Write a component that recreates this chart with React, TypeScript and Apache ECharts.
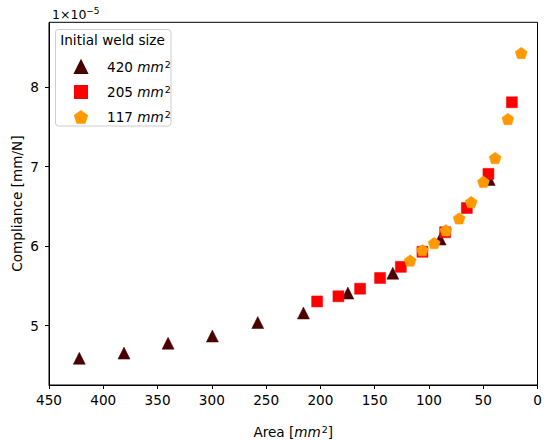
import React, { useEffect, useRef } from "react";
import * as echarts from "echarts";

// Areas [mm^2] and compliance [x 1e-5 mm/N]
const AREA_420 = [422.1, 380.9, 340.3, 299.5, 257.7, 215.6, 174.7, 133.3, 89.7, 44.5];
const COMP_420 = [4.59, 4.655, 4.78, 4.87, 5.04, 5.16, 5.41, 5.66, 6.09, 6.84];
const AREA_205 = [203, 183.4, 163.4, 145, 125.9, 106, 85.1, 65.1, 45.2, 23.6];
const COMP_205 = [5.305, 5.37, 5.465, 5.6, 5.74, 5.93, 6.175, 6.48, 6.91, 7.81];
const AREA_117 = [117.3, 106, 95.2, 84.4, 72.2, 61.1, 49.8, 39, 27.3, 15];
const COMP_117 = [5.82, 5.95, 6.04, 6.2, 6.35, 6.555, 6.81, 7.11, 7.6, 8.43];

const SERIES_NAMES = ["420", "205", "117"];
const SERIES_COLORS = ["#4a0000", "#ff0000", "#ff9900"];
const X_TICKS = [0, 50, 100, 150, 200, 250, 300, 350, 400, 450];
const Y_TICKS = [5, 6, 7, 8];
const Y_MIN = 4.254;
const Y_MAX = 8.816;

const FONT = "DejaVu Sans";
const FS = 13.6;
const PENTAGON = "path://M0,-1L0.951,-0.309L0.588,0.809L-0.588,0.809L-0.951,-0.309Z";

const zip = (xs: number[], ys: number[]) => xs.map((x, i) => [x, ys[i]]);

export default function App() {
  const ref = useRef<HTMLDivElement>(null);
  useEffect(() => {
    if (!ref.current) return;
    const chart = echarts.init(ref.current, null, { renderer: "svg" });
    const supRich = {
      i: { fontStyle: "italic", fontSize: FS, fontFamily: FONT, color: "#000", lineHeight: 16 },
      s: { fontSize: 9.5, fontFamily: FONT, color: "#000", verticalAlign: "top", lineHeight: 16, padding: [0, 0, 0, 1] },
    };
    const mkSeries = (i: number, symbol: string, size: number, xs: number[], ys: number[]) => ({
      name: SERIES_NAMES[i],
      type: "scatter",
      symbol,
      symbolKeepAspect: true,
      symbolSize: size,
      itemStyle: { color: SERIES_COLORS[i], borderColor: SERIES_COLORS[i], borderWidth: 0.5, opacity: 1 },
      emphasis: { disabled: true },
      data: zip(xs, ys),
    });
    const top = 22.3;
    const bottom = 56;
    chart.setOption({
      animation: false,
      backgroundColor: "#ffffff",
      textStyle: { fontFamily: FONT },
      grid: {
        left: 49,
        right: 12.5,
        top,
        bottom,
        show: true,
        borderColor: "#000",
        borderWidth: 1,
        backgroundColor: "transparent",
        containLabel: false,
        outerBoundsMode: "none",
      },
      xAxis: {
        type: "value",
        inverse: true,
        min: 0,
        max: 450,
        interval: 50,
        splitLine: { show: false },
        axisLine: { show: true, onZero: false, lineStyle: { color: "#000", width: 1 } },
        axisTick: { show: true, inside: false, length: 4, lineStyle: { color: "#000" }, customValues: X_TICKS },
        axisLabel: { color: "#000", fontSize: FS, fontFamily: FONT, margin: 8, customValues: X_TICKS },
        name: "Area [{i|mm}{s|2}]",
        nameLocation: "middle",
        nameGap: 39,
        nameTextStyle: { color: "#000", fontSize: FS, fontFamily: FONT, lineHeight: 16, rich: supRich },
      },
      yAxis: {
        type: "value",
        min: Y_MIN,
        max: Y_MAX,
        splitLine: { show: false },
        axisLine: { show: true, onZero: false, lineStyle: { color: "#000", width: 1 } },
        axisTick: { show: true, inside: false, length: 4, lineStyle: { color: "#000" }, customValues: Y_TICKS },
        axisLabel: { color: "#000", fontSize: FS, fontFamily: FONT, margin: 10, customValues: Y_TICKS },
      },
      legend: {
        show: true,
        orient: "vertical",
        left: 69,
        top: 54,
        itemWidth: 12,
        itemHeight: 12,
        itemGap: 9,
        symbolKeepAspect: true,
        selectedMode: false,
        data: SERIES_NAMES,
        formatter: (name: string) => `${name} {i|mm}{s|2}`,
        textStyle: {
          color: "#000",
          fontSize: FS,
          fontFamily: FONT,
          lineHeight: 16,
          padding: [0, 0, 0, 15],
          rich: supRich,
        },
        z: 10,
      },
      graphic: [
        {
          type: "rect",
          z: 5,
          shape: { x: 55.5, y: 29.5, width: 115.5, height: 96.5, r: 3 },
          style: { fill: "rgba(255,255,255,0.8)", stroke: "#cccccc", lineWidth: 1 },
        },
        {
          type: "text",
          z: 6,
          x: 112.5,
          y: 39.5,
          style: {
            text: "Initial weld size",
            fontSize: FS,
            fontFamily: FONT,
            fill: "#000",
            align: "center",
            verticalAlign: "middle",
          },
        },
        {
          type: "text",
          z: 6,
          x: 17,
          y: (top + (441 - bottom)) / 2,
          rotation: Math.PI / 2,
          style: {
            text: "Compliance [mm/N]",
            fontSize: FS,
            fontFamily: FONT,
            fill: "#000",
            align: "center",
            verticalAlign: "middle",
          },
        },
        {
          type: "text",
          z: 6,
          x: 52,
          y: 14,
          style: {
            text: "1×10{s|−5}",
            fontSize: 12.5,
            fontFamily: FONT,
            fill: "#000",
            align: "left",
            verticalAlign: "middle",
            rich: {
              s: { fontSize: 9, fontFamily: FONT, fill: "#000", verticalAlign: "top", lineHeight: 15 },
            },
            lineHeight: 15,
          },
        },
      ],
      series: [
        mkSeries(0, "triangle", 12, AREA_420, COMP_420),
        mkSeries(1, "rect", 11, AREA_205, COMP_205),
        mkSeries(2, PENTAGON, 12, AREA_117, COMP_117),
      ],
    });
    return () => chart.dispose();
  }, []);
  return (
    <div
      ref={ref}
      style={{ position: "fixed", left: 0, top: 0, width: 550, height: 441, background: "#fff" }}
    />
  );
}
